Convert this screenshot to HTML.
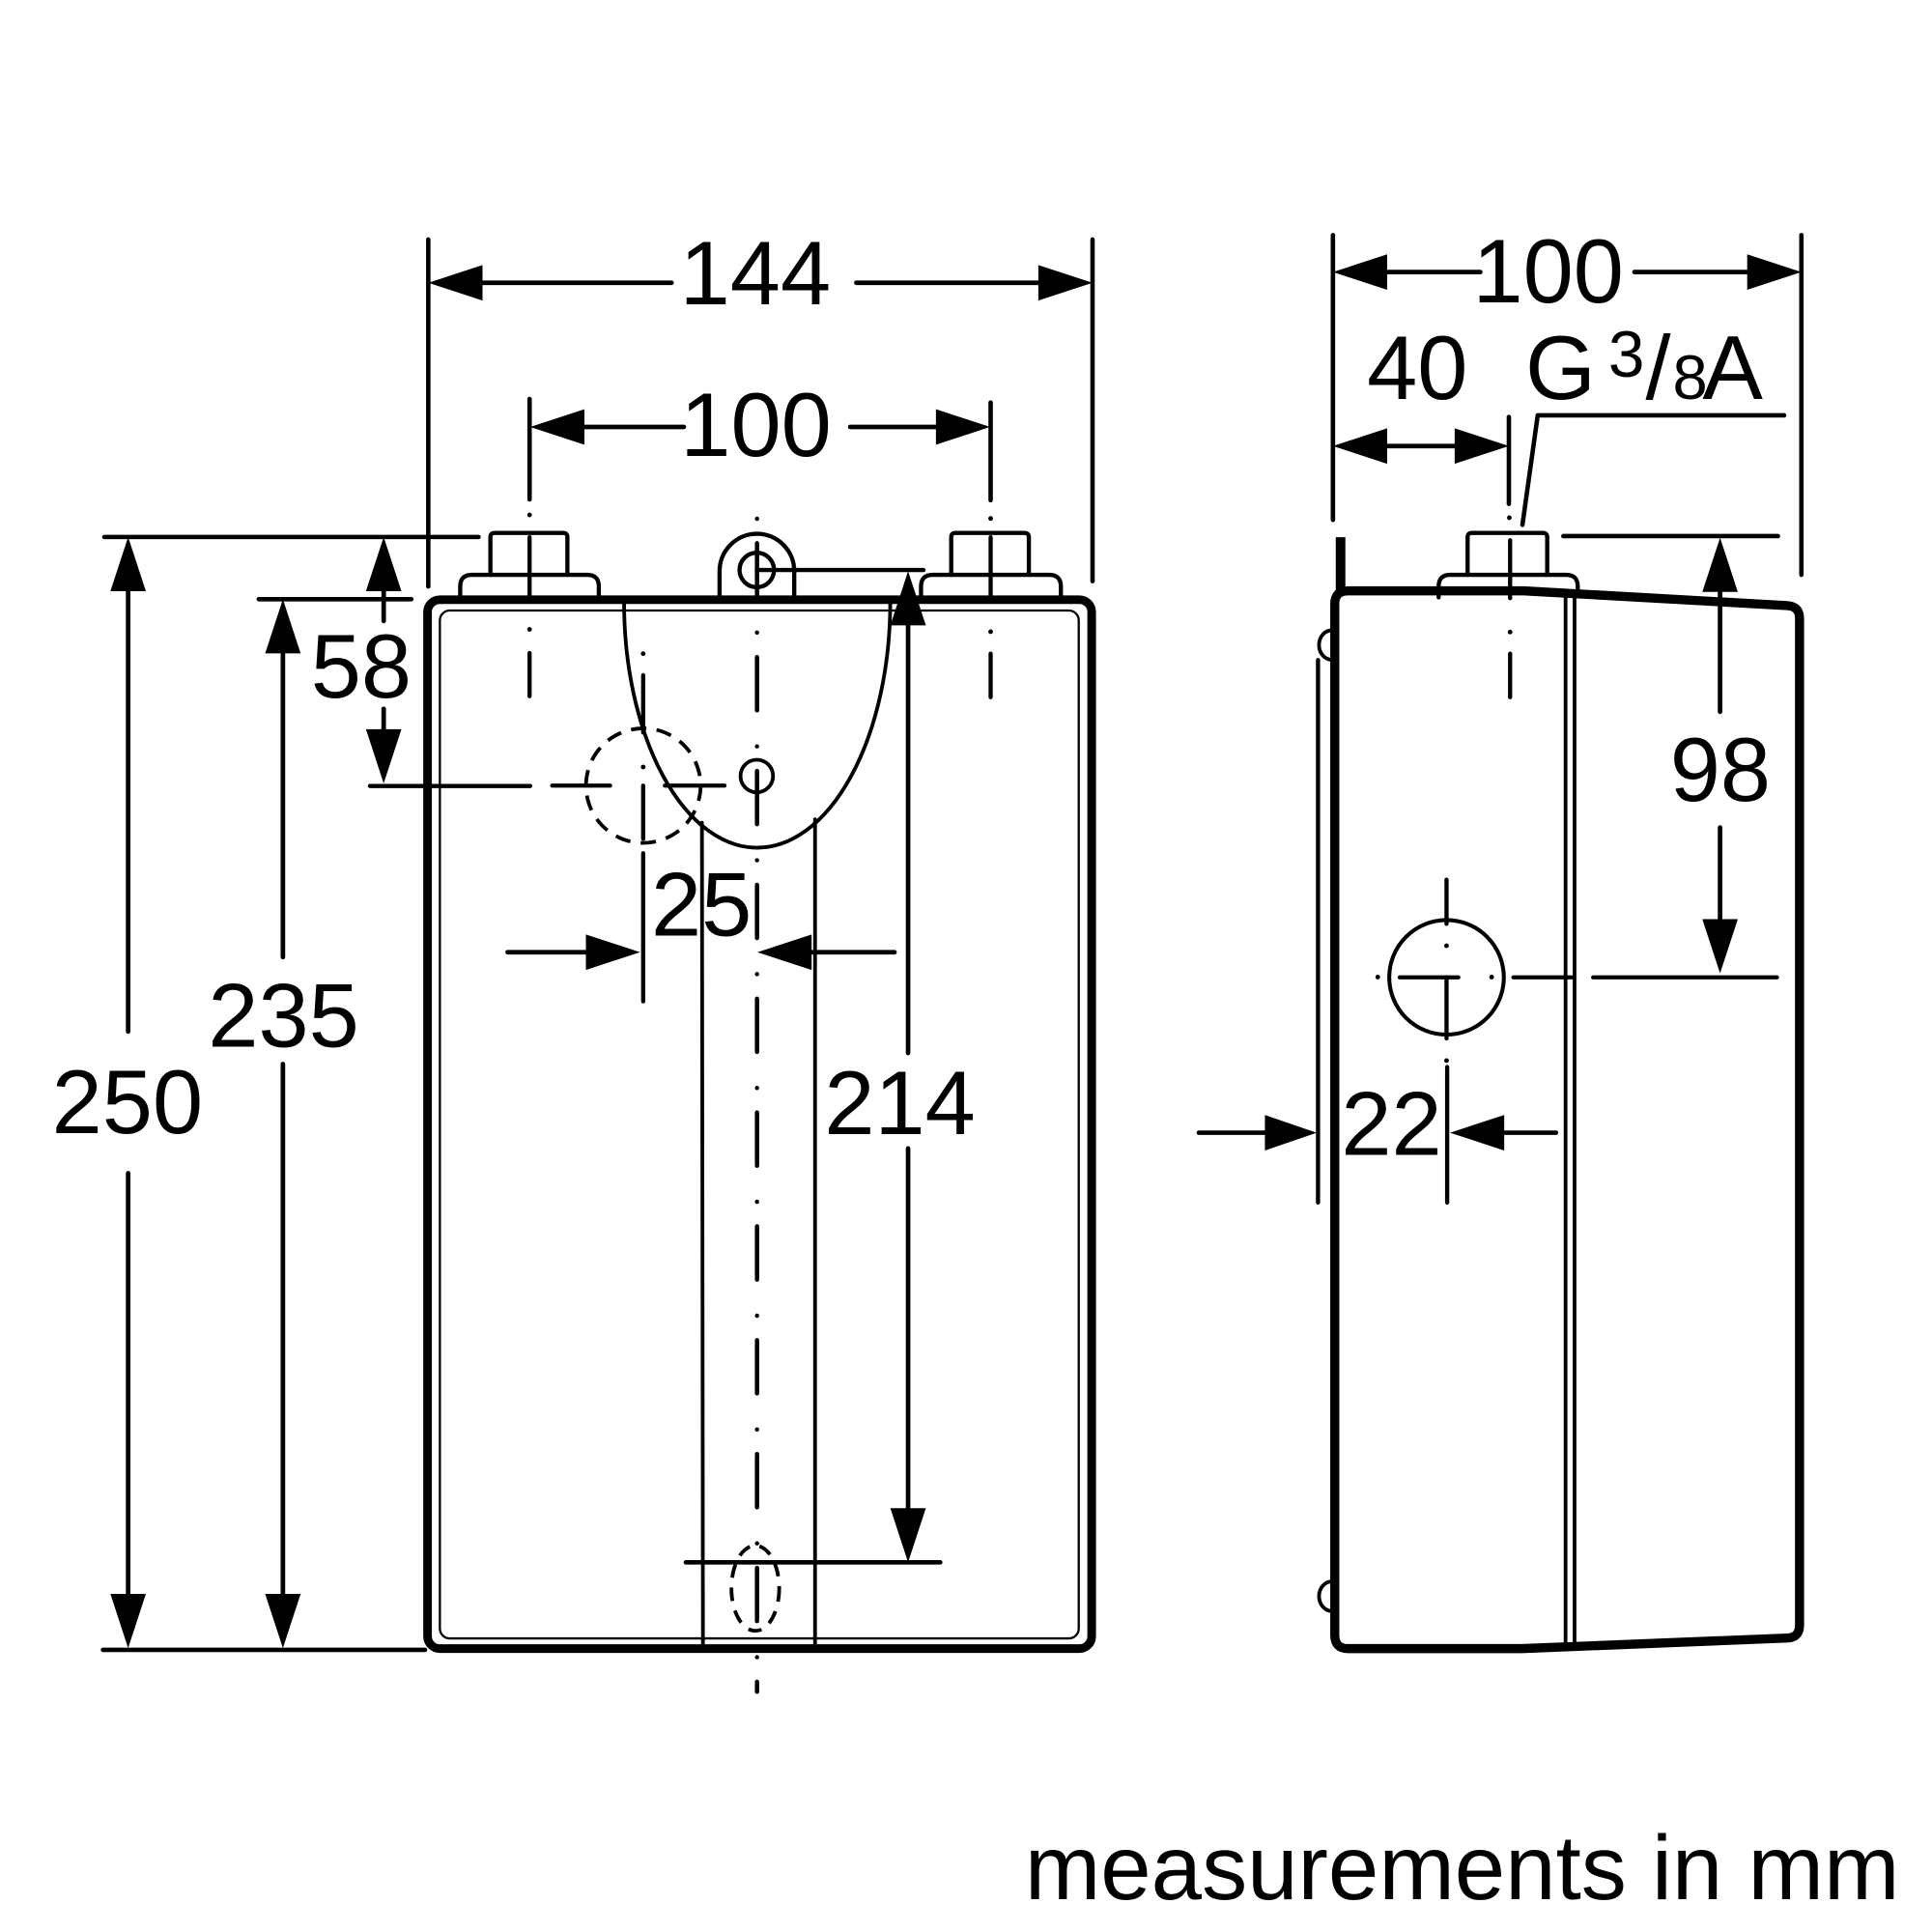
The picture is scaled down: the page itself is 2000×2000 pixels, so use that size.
<!DOCTYPE html>
<html>
<head>
<meta charset="utf-8">
<style>
html,body{margin:0;padding:0;background:#fff;}
svg{display:block;}
text{font-family:"Liberation Sans",Arial,sans-serif;fill:#000;}
</style>
</head>
<body>
<svg width="2000" height="2000" viewBox="0 0 1568 1568" xmlns="http://www.w3.org/2000/svg">
<rect width="1568" height="1568" fill="#fff"/>

<!-- ================= FRONT VIEW ================= -->
<g fill="none" stroke="#000" stroke-linecap="round" stroke-linejoin="round">
  <!-- body -->
  <rect x="347" y="486.7" width="539" height="851.3" rx="10" stroke-width="7"/>
  <rect x="357" y="495.5" width="518.5" height="834.2" rx="8" stroke-width="1.8"/>

  <!-- left fitting -->
  <path d="M398,466.5 L398,436 Q398,432.5 401.5,432.5 L457,432.5 Q460.5,432.5 460.5,436 L460.5,466.5" stroke-width="3.4"/>
  <path d="M373.5,485 L373.5,476 Q373.5,466.5 383,466.5 L476.5,466.5 Q486,466.5 486,476 L486,485" stroke-width="3.4"/>
  <!-- right fitting -->
  <path d="M772,466.5 L772,436 Q772,432.5 775.5,432.5 L831.5,432.5 Q835,432.5 835,436 L835,466.5" stroke-width="3.4"/>
  <path d="M747.5,485 L747.5,476 Q747.5,466.5 757,466.5 L851.5,466.5 Q861,466.5 861,476 L861,485" stroke-width="3.4"/>

  <!-- lug -->
  <path d="M584,485 L584,463.5 A30.3,30.3 0 0 1 644.6,463.5 L644.6,485" stroke-width="3.4"/>
  <circle cx="614.2" cy="462.6" r="14" stroke-width="3.4"/>
  <line x1="614.2" y1="462.6" x2="749.5" y2="462.6" stroke-width="3.4"/>

  <!-- U-shaped curve and pipe -->
  <path d="M506.5,489 A108,199 0 0 0 722.5,489" stroke-width="3"/>
  <line x1="569.7" y1="667.7" x2="570.5" y2="1336" stroke-width="3"/>
  <line x1="661.5" y1="665" x2="661.5" y2="1336" stroke-width="3"/>

  <!-- dashed circle -->
  <circle cx="522.1" cy="637.6" r="46.5" stroke-width="3" stroke-linecap="butt" stroke-dasharray="12.5 8.4"/>
  <!-- small circle on centre line -->
  <circle cx="614.2" cy="629.8" r="13.2" stroke-width="3"/>
  <!-- dashed oval at bottom -->
  <ellipse cx="613" cy="1289" rx="19.4" ry="34.6" stroke-width="3" stroke-linecap="butt" stroke-dasharray="11 8"/>

  <!-- main vertical centre line (dash-dot) -->
  <path d="M614.4,421 L614.4,1373" stroke-width="3.5" stroke-dasharray="0 19.9 43.2 29.3"/>

  <!-- left fitting centre line -->
  <line x1="429.8" y1="323.8" x2="429.8" y2="405.3" stroke-width="3.6"/>
  <line x1="429.8" y1="417.9" x2="429.8" y2="417.9" stroke-width="3.8"/>
  <line x1="429.8" y1="436" x2="429.8" y2="483.5" stroke-width="3.4"/>
  <line x1="429.8" y1="510.8" x2="429.8" y2="510.8" stroke-width="3.8"/>
  <line x1="429.8" y1="530" x2="429.8" y2="565" stroke-width="3.4"/>
  <!-- right fitting centre line -->
  <line x1="804" y1="326.7" x2="804" y2="406" stroke-width="3.6"/>
  <line x1="804" y1="420.8" x2="804" y2="420.8" stroke-width="3.8"/>
  <line x1="804" y1="436" x2="804" y2="483.5" stroke-width="3.4"/>
  <line x1="804" y1="512.7" x2="804" y2="512.7" stroke-width="3.8"/>
  <line x1="804" y1="530.5" x2="804" y2="565.8" stroke-width="3.4"/>

  <!-- dashed circle crosshair -->
  <line x1="300.2" y1="637.9" x2="430.3" y2="637.9" stroke-width="3.4"/>
  <line x1="448.2" y1="637.6" x2="495.2" y2="637.6" stroke-width="3.4"/>
  <line x1="539.6" y1="637.6" x2="588" y2="637.6" stroke-width="3.4"/>
  <line x1="522" y1="530.5" x2="522" y2="530.5" stroke-width="3.8"/>
  <line x1="522" y1="548" x2="522" y2="594.5" stroke-width="3.4"/>
  <line x1="522" y1="622.5" x2="522" y2="622.5" stroke-width="3.8"/>
  <line x1="522" y1="637.6" x2="522" y2="680.8" stroke-width="3.4"/>
  <line x1="522" y1="692.5" x2="522" y2="812.7" stroke-width="3.4"/>

  <!-- 144 dimension -->
  <line x1="347.6" y1="194.4" x2="347.6" y2="476" stroke-width="3.6"/>
  <line x1="886.7" y1="194.4" x2="886.7" y2="471.7" stroke-width="3.6"/>
  <line x1="391" y1="229.5" x2="545" y2="229.5" stroke-width="3.7"/>
  <line x1="695" y1="229.5" x2="844" y2="229.5" stroke-width="3.7"/>
  <!-- front 100 dimension -->
  <line x1="474" y1="346.5" x2="555" y2="346.5" stroke-width="3.7"/>
  <line x1="690" y1="346.5" x2="760" y2="346.5" stroke-width="3.7"/>

  <!-- 250 -->
  <line x1="84.6" y1="435.8" x2="388.4" y2="435.8" stroke-width="3.6"/>
  <line x1="83.6" y1="1339" x2="345" y2="1339" stroke-width="3.6"/>
  <line x1="104" y1="479" x2="104" y2="837.2" stroke-width="3.7"/>
  <line x1="104" y1="952.2" x2="104" y2="1295" stroke-width="3.7"/>
  <!-- 235 -->
  <line x1="210" y1="486.3" x2="333.8" y2="486.3" stroke-width="3.6"/>
  <line x1="229.6" y1="529" x2="229.6" y2="776.8" stroke-width="3.7"/>
  <line x1="229.6" y1="863.6" x2="229.6" y2="1295" stroke-width="3.7"/>
  <!-- 58 -->
  <line x1="311.4" y1="479" x2="311.4" y2="504" stroke-width="3.7"/>
  <line x1="311.4" y1="575.3" x2="311.4" y2="593" stroke-width="3.7"/>
  <!-- 25 -->
  <line x1="412" y1="772.8" x2="476" y2="772.8" stroke-width="3.7"/>
  <line x1="657" y1="772.8" x2="726" y2="772.8" stroke-width="3.7"/>
  <!-- 214 -->
  <line x1="737" y1="506" x2="737" y2="854.6" stroke-width="3.7"/>
  <line x1="737" y1="932.1" x2="737" y2="1226" stroke-width="3.7"/>
  <line x1="556.6" y1="1268" x2="763.1" y2="1268" stroke-width="3.6"/>
</g>

<!-- front arrowheads -->
<g fill="#000" stroke="none">
  <polygon points="347.6,229.5 391.6,215.1 391.6,243.9"/>
  <polygon points="886.7,229.5 842.7,215.1 842.7,243.9"/>
  <polygon points="430.3,346.5 474.3,332.1 474.3,360.9"/>
  <polygon points="803.6,346.5 759.6,332.1 759.6,360.9"/>
  <polygon points="104,435.8 89.6,479.8 118.4,479.8"/>
  <polygon points="104,1337.6 89.6,1293.6 118.4,1293.6"/>
  <polygon points="229.6,486.3 215.2,530.3 244,530.3"/>
  <polygon points="229.6,1337.6 215.2,1293.6 244,1293.6"/>
  <polygon points="311.4,435.8 297,479.8 325.8,479.8"/>
  <polygon points="311.4,635.8 297,591.8 325.8,591.8"/>
  <polygon points="519.5,772.8 475.5,758.4 475.5,787.2"/>
  <polygon points="614.7,772.8 658.7,758.4 658.7,787.2"/>
  <polygon points="737,463.5 722.6,507.5 751.4,507.5"/>
  <polygon points="737,1268 722.6,1224 751.4,1224"/>
</g>

<!-- ================= SIDE VIEW ================= -->
<g fill="none" stroke="#000" stroke-linecap="round" stroke-linejoin="round">
  <path d="M1083.3,1327 L1083.3,490 Q1083.3,479.5 1094,479.5 L1236.5,479.5 L1450.5,491.5 Q1460.5,492 1460.5,502 L1460.5,1319 Q1460.5,1329 1450.5,1329.4 L1235,1338 L1094,1338 Q1083.3,1338 1083.3,1327 Z" stroke-width="7.4"/>
  <line x1="1088" y1="436" x2="1088" y2="480" stroke-width="7.8" stroke-linecap="butt"/>
  <line x1="1270.6" y1="484.6" x2="1270.6" y2="1336" stroke-width="3"/>
  <line x1="1277.9" y1="484.6" x2="1277.9" y2="1336" stroke-width="3"/>
  <path d="M1081,511.5 A10.5,12 0 0 0 1081,535.5" stroke-width="3"/>
  <path d="M1081,1283.5 A10.5,12 0 0 0 1081,1307.5" stroke-width="3"/>
  <line x1="1069.7" y1="535.7" x2="1069.7" y2="976" stroke-width="3.4"/>

  <path d="M1191.1,466.5 L1191.1,436 Q1191.1,432.5 1194.6,432.5 L1252.2,432.5 Q1255.7,432.5 1255.7,436 L1255.7,466.5" stroke-width="3.4"/>
  <path d="M1167.6,484.8 L1167.6,476 Q1167.6,466.5 1177,466.5 L1271,466.5 Q1280.5,466.5 1280.5,476 L1280.5,479" stroke-width="3.4"/>

  <line x1="1224.6" y1="338.4" x2="1224.6" y2="409" stroke-width="3.6"/>
  <line x1="1225" y1="420.2" x2="1225" y2="420.2" stroke-width="3.8"/>
  <line x1="1225.6" y1="438.5" x2="1225.6" y2="485.5" stroke-width="3.4"/>
  <line x1="1225.6" y1="513" x2="1225.6" y2="513" stroke-width="3.8"/>
  <line x1="1225.6" y1="530.5" x2="1225.6" y2="565.8" stroke-width="3.4"/>

  <polyline points="1448,337.1 1248,337.1 1235.6,426" stroke-width="3.6"/>

  <line x1="1081.8" y1="190.8" x2="1081.8" y2="422" stroke-width="3.6"/>
  <line x1="1462" y1="190.8" x2="1462" y2="466.5" stroke-width="3.6"/>
  <line x1="1125" y1="220.8" x2="1201.4" y2="220.8" stroke-width="3.7"/>
  <line x1="1326.5" y1="220.8" x2="1418" y2="220.8" stroke-width="3.7"/>
  <line x1="1125" y1="362" x2="1184" y2="362" stroke-width="3.7"/>

  <line x1="1268.8" y1="435.1" x2="1443" y2="435.1" stroke-width="3.6"/>
  <line x1="1396" y1="479" x2="1396" y2="577.7" stroke-width="3.7"/>
  <line x1="1396" y1="671.6" x2="1396" y2="747" stroke-width="3.7"/>
  <line x1="1228.3" y1="793.2" x2="1275.6" y2="793.2" stroke-width="3.4"/>
  <line x1="1293" y1="793.2" x2="1442.2" y2="793.2" stroke-width="3.4"/>

  <circle cx="1174" cy="793.2" r="46.5" stroke-width="3.2"/>
  <line x1="1136" y1="793.2" x2="1183.6" y2="793.2" stroke-width="3.4"/>
  <line x1="1174" y1="793.2" x2="1174" y2="842.8" stroke-width="3.4"/>
  <line x1="1174" y1="714" x2="1174" y2="749.8" stroke-width="3.4"/>
  <line x1="1174" y1="767.6" x2="1174" y2="767.6" stroke-width="3.8"/>
  <line x1="1118.2" y1="793" x2="1118.2" y2="793" stroke-width="3.8"/>
  <line x1="1210.6" y1="793" x2="1210.6" y2="793" stroke-width="3.8"/>
  <line x1="1174" y1="860.8" x2="1174" y2="860.8" stroke-width="3.8"/>

  <line x1="1174.5" y1="866" x2="1174.5" y2="976" stroke-width="3.4"/>
  <line x1="973" y1="919.3" x2="1027" y2="919.3" stroke-width="3.7"/>
  <line x1="1220" y1="919.3" x2="1262.8" y2="919.3" stroke-width="3.7"/>
</g>

<g fill="#000" stroke="none">
  <polygon points="1081.8,220.8 1125.8,206.4 1125.8,235.2"/>
  <polygon points="1462,220.8 1418,206.4 1418,235.2"/>
  <polygon points="1081.8,362 1125.8,347.6 1125.8,376.4"/>
  <polygon points="1224.6,362 1180.6,347.6 1180.6,376.4"/>
  <polygon points="1396,436.4 1381.6,480.4 1410.4,480.4"/>
  <polygon points="1396,790 1381.6,746 1410.4,746"/>
  <polygon points="1068.6,919.3 1026.6,904.9 1026.6,933.7"/>
  <polygon points="1176.8,919.3 1220.8,904.9 1220.8,933.7"/>
</g>

<!-- ================= TEXT ================= -->
<g font-size="73.5" text-anchor="middle">
  <text x="613" y="247">144</text>
  <text x="613.5" y="370">100</text>
  <text x="1256.5" y="245.6">100</text>
  <text x="1150.3" y="324">40</text>
  <text x="293.1" y="566">58</text>
  <text x="230.2" y="849.6">235</text>
  <text x="103.4" y="919.8">250</text>
  <text x="569.3" y="759.2">25</text>
  <text x="730.4" y="920.6">214</text>
  <text x="1396.2" y="650">98</text>
  <text x="1129.4" y="937.3">22</text>
  <text x="1266.5" y="324">G</text>
  <text x="1345.8" y="324">/</text>
  <text x="1406.2" y="324">A</text>
</g>
<text x="1320" y="305.8" font-size="53" text-anchor="middle">3</text>
<text x="1371.7" y="324" font-size="51" text-anchor="middle">8</text>

<text x="831.7" y="1541.3" font-size="74" textLength="710" lengthAdjust="spacingAndGlyphs">measurements in mm</text>
</svg>
</body>
</html>
